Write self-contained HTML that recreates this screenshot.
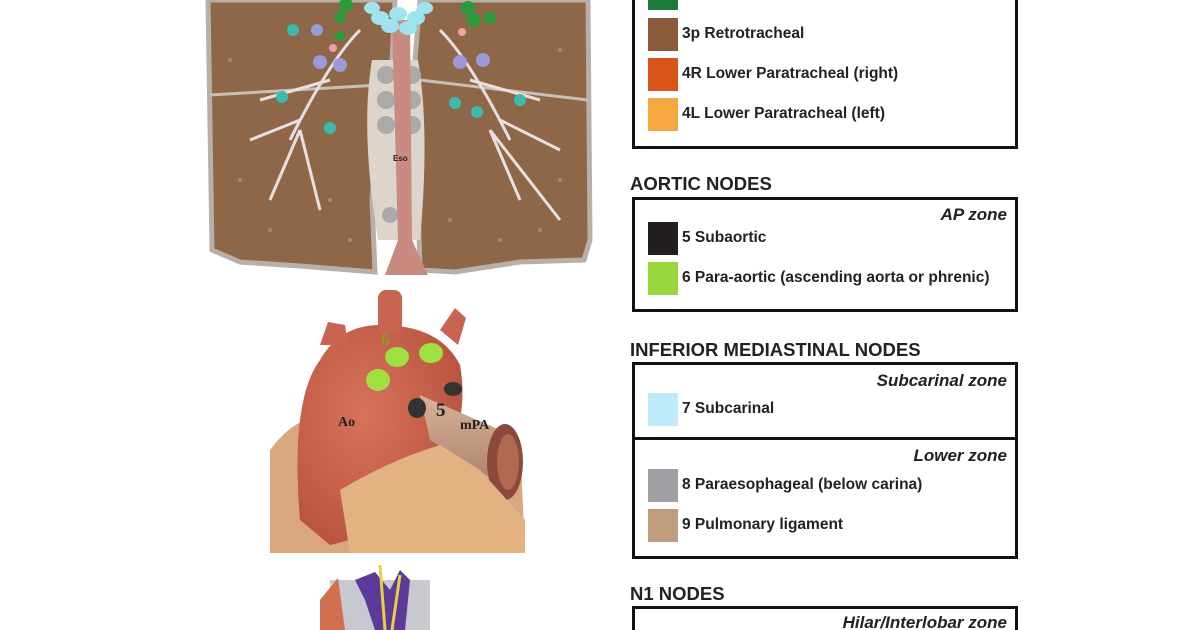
<!DOCTYPE html>
<html style="width:1200px;height:630px;overflow:hidden"><head><style>
body{margin:0;width:1200px;height:630px;background:#fff;overflow:hidden;position:relative;font-family:"Liberation Sans",sans-serif}
.box{position:absolute;left:632px;width:380px;border:3px solid #111;background:#fff}
.h{position:absolute;left:630px;font-size:18.5px;font-weight:bold;color:#222}
.row{position:absolute;left:648px;height:33px}
.sw{position:absolute;left:0;top:0;width:30px;height:33px}
.t{position:absolute;left:34px;top:7px;white-space:nowrap;font-size:15.5px;font-weight:bold;color:#222}
.z{position:absolute;right:8px;font-style:italic;font-weight:bold;font-size:17px;color:#222}
.div{position:absolute;left:632px;width:386px;height:3px;background:#111}
</style></head><body>
<svg width="600" height="630" style="position:absolute;left:0;top:0">
<defs>
<radialGradient id="ao" cx="0.4" cy="0.4" r="0.7"><stop offset="0" stop-color="#d8735a"/><stop offset="1" stop-color="#b5503c"/></radialGradient>
<linearGradient id="pa" x1="0" y1="0" x2="0" y2="1"><stop offset="0" stop-color="#d9b09a"/><stop offset="1" stop-color="#a8806a"/></linearGradient>
</defs>
<path d="M208 0 L395 0 L392 60 L378 120 L372 200 L375 272 L300 266 L240 262 L212 250 Z" fill="#8e6648" stroke="#b8b0a8" stroke-width="5"/>
<path d="M420 0 L588 0 L590 240 L584 260 L520 262 L455 272 L420 270 L418 200 L410 120 Z" fill="#8e6648" stroke="#b8b0a8" stroke-width="5"/>
<g fill="#b8a860" opacity="0.6"><circle cx="240" cy="180" r="2"/><circle cx="270" cy="230" r="2"/><circle cx="330" cy="200" r="2"/><circle cx="350" cy="240" r="2"/><circle cx="450" cy="220" r="2"/><circle cx="500" cy="240" r="2"/><circle cx="560" cy="180" r="2"/><circle cx="540" cy="230" r="2"/><circle cx="230" cy="60" r="2"/><circle cx="560" cy="50" r="2"/></g>
<path d="M210 95 L380 85 M420 80 L588 100" stroke="#c8bfb5" stroke-width="3"/>
<path d="M372 60 Q360 130 378 240 L420 240 Q430 130 418 60 Z" fill="#ddd5cc"/>
<g fill="#aaa"><circle cx="386" cy="75" r="9"/><circle cx="412" cy="75" r="9"/><circle cx="386" cy="100" r="9"/><circle cx="412" cy="100" r="9"/><circle cx="386" cy="125" r="9"/><circle cx="412" cy="125" r="9"/><circle cx="390" cy="215" r="8"/></g>
<path d="M392 20 L410 20 L412 240 L428 275 L385 275 L398 240 Z" fill="#c98a80"/>
<g stroke="#e8e0e0" stroke-width="3" fill="none">
<path d="M360 30 Q330 60 290 140 M330 80 L260 100 M300 120 L250 140 M300 130 L270 200 M300 130 L320 210"/>
<path d="M440 30 Q470 60 510 140 M470 80 L540 100 M500 120 L560 150 M490 130 L520 200 M490 130 L560 220"/>
</g>
<g fill="#9fe3ef"><ellipse cx="380" cy="18" rx="9" ry="7"/><ellipse cx="398" cy="14" rx="9" ry="7"/><ellipse cx="416" cy="18" rx="9" ry="7"/><ellipse cx="390" cy="26" rx="9" ry="7"/><ellipse cx="408" cy="28" rx="9" ry="7"/><ellipse cx="372" cy="8" rx="8" ry="6"/><ellipse cx="425" cy="8" rx="8" ry="6"/></g>
<g fill="#2d9a3a"><circle cx="346" cy="5" r="7"/><circle cx="340" cy="17" r="6"/><circle cx="468" cy="8" r="7"/><circle cx="474" cy="20" r="7"/><circle cx="490" cy="18" r="6"/><circle cx="340" cy="36" r="5"/></g>
<g fill="#9a9ad8"><circle cx="317" cy="30" r="6"/><circle cx="320" cy="62" r="7"/><circle cx="340" cy="65" r="7"/><circle cx="460" cy="62" r="7"/><circle cx="483" cy="60" r="7"/></g>
<g fill="#3bbbb0"><circle cx="293" cy="30" r="6"/><circle cx="282" cy="97" r="6"/><circle cx="330" cy="128" r="6"/><circle cx="455" cy="103" r="6"/><circle cx="477" cy="112" r="6"/><circle cx="520" cy="100" r="6"/></g>
<g fill="#f0a0a0"><circle cx="333" cy="48" r="4"/><circle cx="462" cy="32" r="4"/></g>
<text x="393" y="161" font-size="8" font-weight="bold" fill="#222" font-family="Liberation Sans">Eso</text>
<path d="M270 450 Q300 410 330 420 L520 440 L525 553 L270 553 Z" fill="#d9a680"/>
<path d="M300 520 Q290 400 320 360 Q340 325 380 325 Q440 325 460 365 Q470 420 440 470 Q400 530 330 545 Z" fill="url(#ao)"/>
<rect x="378" y="290" width="24" height="45" rx="8" fill="#c86550"/>
<path d="M320 345 L328 322 L345 325 L348 345 Z" fill="#c86550"/>
<path d="M440 330 L455 308 L466 318 L458 345 Z" fill="#c86550"/>
<path d="M420 395 L500 430 L510 490 L430 440 Z" fill="url(#pa)"/>
<ellipse cx="505" cy="462" rx="18" ry="38" fill="#8c4a3c"/>
<ellipse cx="508" cy="462" rx="11" ry="28" fill="#b06850"/>
<path d="M340 490 Q390 460 440 445 L480 470 L525 520 L525 553 L350 553 Z" fill="#e2b283"/>
<g fill="#9ee040"><ellipse cx="397" cy="357" rx="12" ry="10"/><ellipse cx="431" cy="353" rx="12" ry="10"/><ellipse cx="378" cy="380" rx="12" ry="11"/></g>
<g fill="#333"><ellipse cx="417" cy="408" rx="9" ry="10"/><ellipse cx="453" cy="389" rx="9" ry="7"/></g>
<text x="381" y="345" font-size="17" font-weight="bold" fill="#8aa020" font-family="Liberation Serif">6</text>
<text x="436" y="416" font-size="19" font-weight="bold" fill="#222" font-family="Liberation Serif">5</text>
<text x="338" y="426" font-size="14" font-weight="bold" fill="#222" font-family="Liberation Serif">Ao</text>
<text x="460" y="429" font-size="14" font-weight="bold" fill="#222" font-family="Liberation Serif">mPA</text>
<rect x="330" y="580" width="100" height="50" fill="#c8c8d0"/>
<path d="M320 600 L338 578 L345 630 L320 630 Z" fill="#d07050"/>
<path d="M355 580 L375 572 L390 590 L400 570 L410 580 L405 630 L375 630 L365 600 Z" fill="#5b3a9a"/>
<path d="M380 565 L385 630 M400 575 L392 630" stroke="#e8d040" stroke-width="3"/>
</svg>

<div class="box" style="top:-10px;height:153px"></div>
<div class="row" style="top:-23px"><div class="sw" style="background:#1f7a3a"></div><div class="t">3a Prevascular</div></div>
<div class="row" style="top:18px"><div class="sw" style="background:#8a5a3a"></div><div class="t">3p Retrotracheal</div></div>
<div class="row" style="top:58px"><div class="sw" style="background:#d9541a"></div><div class="t">4R Lower Paratracheal (right)</div></div>
<div class="row" style="top:98px"><div class="sw" style="background:#f5a840"></div><div class="t">4L Lower Paratracheal (left)</div></div>

<div class="h" style="top:173px">AORTIC NODES</div>
<div class="box" style="top:197px;height:109px"><div class="z" style="top:5px">AP zone</div></div>
<div class="row" style="top:222px"><div class="sw" style="background:#231f20"></div><div class="t">5 Subaortic</div></div>
<div class="row" style="top:262px"><div class="sw" style="background:#96d83c"></div><div class="t">6 Para-aortic (ascending aorta or phrenic)</div></div>

<div class="h" style="top:339px">INFERIOR MEDIASTINAL NODES</div>
<div class="box" style="top:362px;height:191px"><div class="z" style="top:6px">Subcarinal zone</div><div class="z" style="top:81px">Lower zone</div></div>
<div class="div" style="top:437px"></div>
<div class="row" style="top:393px"><div class="sw" style="background:#bfeafa"></div><div class="t">7 Subcarinal</div></div>
<div class="row" style="top:469px"><div class="sw" style="background:#a0a0a4"></div><div class="t">8 Paraesophageal (below carina)</div></div>
<div class="row" style="top:509px"><div class="sw" style="background:#bf9c7c"></div><div class="t">9 Pulmonary ligament</div></div>

<div class="h" style="top:583px">N1 NODES</div>
<div class="box" style="top:606px;height:21px;border-bottom:none"><div class="z" style="top:4px">Hilar/Interlobar zone</div></div>
</body></html>
